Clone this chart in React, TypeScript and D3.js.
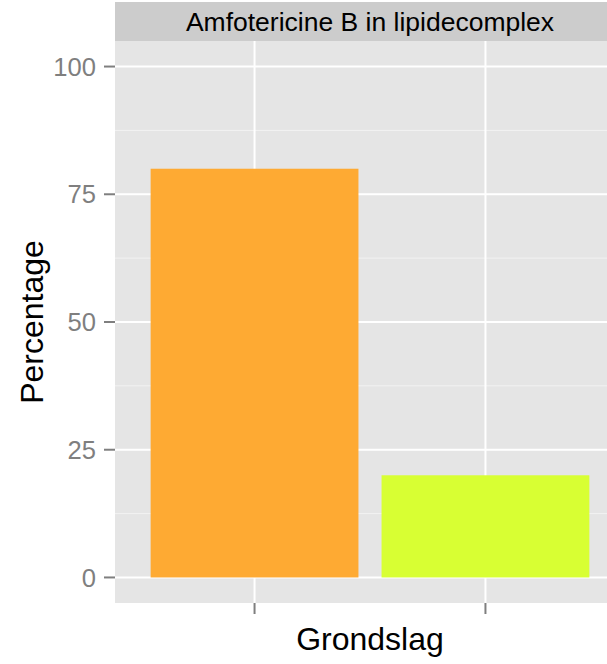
import React from "react";
import * as d3 from "d3";

const categories = ["cat1", "cat2"];
const tickLabels = ["", ""];
const values = [80, 20];
const colors = ["#FEAA33", "#D8FF33"];
const yTicks = [0, 25, 50, 75, 100];
const yMinor = [12.5, 37.5, 62.5, 87.5];
const stripTitle = "Amfotericine B in lipidecomplex";
const xTitle = "Grondslag";
const yTitle = "Percentage";

export default function App() {
  const W = 607, H = 664;
  const left = 116, right = 624, top = 41, bottom = 603;
  const x = d3.scaleLinear().domain([0.4, categories.length + 0.6]).range([left, right]);
  const y = d3.scaleLinear().domain([-5, 105]).range([bottom, top]);
  const font = "'Liberation Sans', Arial, Helvetica, sans-serif";
  const cx = (left + right) / 2;
  return (
    <svg width={W} height={H} style={{ position: "absolute", left: 0, top: 0, background: "#fff" }} fontFamily={font}>
      <rect x={0} y={0} width={W} height={H} fill="#fff" />
      <rect x={left - 1} y={top} width={right - left + 1} height={bottom - top} fill="#E5E5E5" />
      {yMinor.map((v) => (
        <line key={"m" + v} x1={left - 1} x2={right} y1={y(v)} y2={y(v)} stroke="#F2F2F2" strokeWidth={1} />
      ))}
      {yTicks.map((v) => (
        <line key={"g" + v} x1={left - 1} x2={right} y1={y(v)} y2={y(v)} stroke="#fff" strokeWidth={2} />
      ))}
      {categories.map((c, i) => (
        <line key={"xg" + c} x1={x(i + 1)} x2={x(i + 1)} y1={top} y2={bottom} stroke="#fff" strokeWidth={2} />
      ))}
      {categories.map((c, i) => (
        <rect key={"b" + c} x={x(i + 1 - 0.45)} width={x(i + 1.45) - x(i + 1 - 0.45)} y={y(values[i])} height={y(0) - y(values[i])} fill={colors[i]} />
      ))}
      <rect x={left - 1} y={2} width={right - left + 1} height={top - 2} fill="#CCCCCC" />
      <text x={cx} y={31} textAnchor="middle" fontSize={26.5} fill="#000">{stripTitle}</text>
      {yTicks.map((v) => (
        <g key={"yt" + v}>
          <line x1={104} x2={115} y1={y(v)} y2={y(v)} stroke="#7F7F7F" strokeWidth={2} />
          <text x={96} y={y(v)} dy="0.36em" textAnchor="end" fontSize={25.6} fill="#7F7F7F">{v}</text>
        </g>
      ))}
      {categories.map((c, i) => (
        <g key={"xt" + c}>
          <line x1={x(i + 1)} x2={x(i + 1)} y1={bottom} y2={614} stroke="#7F7F7F" strokeWidth={2} />
          <text x={x(i + 1)} y={635} textAnchor="middle" fontSize={25.6} fill="#7F7F7F">{tickLabels[i]}</text>
        </g>
      ))}
      <text x={cx} y={650} textAnchor="middle" fontSize={32} fill="#000">{xTitle}</text>
      <text transform={`translate(43,${(top + bottom) / 2}) rotate(-90)`} textAnchor="middle" fontSize={32} fill="#000">{yTitle}</text>
    </svg>
  );
}
